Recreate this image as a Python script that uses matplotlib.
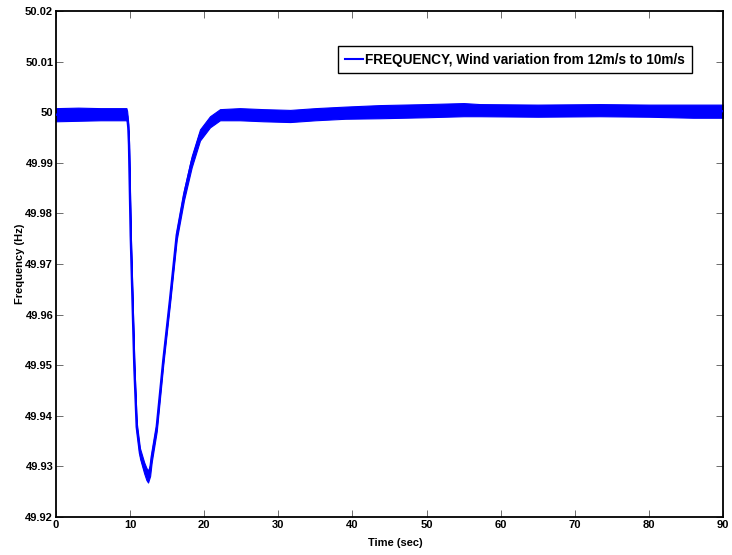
import matplotlib
matplotlib.use("Agg")
import matplotlib.pyplot as plt
from matplotlib import font_manager

# ---- data (time in s, frequency in Hz) ----
time_s = [0.0, 3.0, 6.0, 9.5, 9.6, 9.76, 9.85, 10.08, 10.57, 10.89, 11.33,
          11.9, 12.2, 12.42, 12.7, 12.91, 13.59, 14.48, 15.38, 16.29, 17.27,
          18.31, 19.43, 20.78, 22.13, 24.8, 28.0, 31.6, 35.0, 39.0, 43.7,
          50.0, 55.0, 57.2, 65.0, 73.4, 80.0, 86.0, 90.0]
freq_hz = [49.9995, 49.9996, 49.9996, 49.9996, 49.9992, 49.9969, 49.9935,
           49.9757, 49.9496, 49.9378, 49.9326, 49.9297, 49.9285, 49.9280,
           49.9292, 49.9318, 49.9378, 49.9510, 49.9629, 49.9757, 49.9836,
           49.9902, 49.9955, 49.9981, 49.9995, 49.9996, 49.9994, 49.99925,
           49.9996, 49.9999, 50.0001, 50.0003, 50.0005, 50.0004, 50.0003,
           50.0004, 50.0003, 50.0002, 50.0002]
band_half = [0.0013, 0.0013, 0.0012, 0.0012, 0.0010, 0.0008, 0.0008, 0.0008,
             0.0008, 0.0009, 0.0010, 0.0011, 0.0012, 0.0012, 0.0011, 0.0010,
             0.0009, 0.0008, 0.0008, 0.0009, 0.0010, 0.0011, 0.0011, 0.0011,
             0.0011, 0.0012, 0.0012, 0.0012, 0.0012, 0.0012, 0.0013, 0.0013,
             0.0013, 0.0012, 0.0012, 0.0012, 0.0012, 0.0013, 0.0013]

x_ticks = [0, 10, 20, 30, 40, 50, 60, 70, 80, 90]
y_ticks = [49.92, 49.93, 49.94, 49.95, 49.96, 49.97, 49.98, 49.99, 50.0, 50.01, 50.02]
y_tick_labels = ["49.92", "49.93", "49.94", "49.95", "49.96", "49.97",
                 "49.98", "49.99", "50", "50.01", "50.02"]
legend_label = "FREQUENCY, Wind variation from 12m/s to 10m/s"
x_label = "Time (sec)"
y_label = "Frequency (Hz)"

# ---- fonts ----
avail = {f.name for f in font_manager.fontManager.ttflist}
fam = "Liberation Sans Narrow" if "Liberation Sans Narrow" in avail else "Liberation Sans"
plt.rcParams["font.family"] = [fam, "DejaVu Sans"]

fig = plt.figure(figsize=(7.32, 5.55), dpi=100)
ax = fig.add_axes([0.0765, 0.0685, 0.9112, 0.9117])

lower = [f - h for f, h in zip(freq_hz, band_half)]
upper = [f + h for f, h in zip(freq_hz, band_half)]
ax.fill_between(time_s, lower, upper, color="#0000ff", linewidth=0.8,
                edgecolor="#0000ff", zorder=2)
ax.plot(time_s, freq_hz, color="#0000ff", linewidth=1.7, zorder=3,
        label=legend_label)

ax.set_xlim(0, 90)
ax.set_ylim(49.92, 50.02)
ax.set_xticks(x_ticks)
ax.set_xticklabels([str(v) for v in x_ticks])
ax.set_yticks(y_ticks)
ax.set_yticklabels(y_tick_labels)

ax.tick_params(direction="in", length=5, width=0.6, color="#555555",
               top=True, right=True, labelsize=8, pad=2)
for lab in ax.get_xticklabels() + ax.get_yticklabels():
    lab.set_fontweight("bold")
for s in ax.spines.values():
    s.set_linewidth(1.3)
    s.set_color("black")

ax.set_xlabel(x_label, fontsize=8, fontweight="bold")
ax.set_ylabel(y_label, fontsize=8, fontweight="bold")
ax.yaxis.set_label_coords(-0.046, 0.5)
ax.xaxis.set_label_coords(0.508, -0.042)

leg = ax.legend(loc="upper right", bbox_to_anchor=(0.9535, 0.9314),
                borderaxespad=0, fancybox=False, framealpha=1,
                edgecolor="black", handlelength=1.3, handletextpad=0.2,
                borderpad=0.5, prop={"family": [fam, "DejaVu Sans"],
                                     "size": 9.8, "weight": "bold"})
leg.get_frame().set_linewidth(1.0)
for line in leg.get_lines():
    line.set_linewidth(1.5)

fig.savefig("out.png", dpi=100)
